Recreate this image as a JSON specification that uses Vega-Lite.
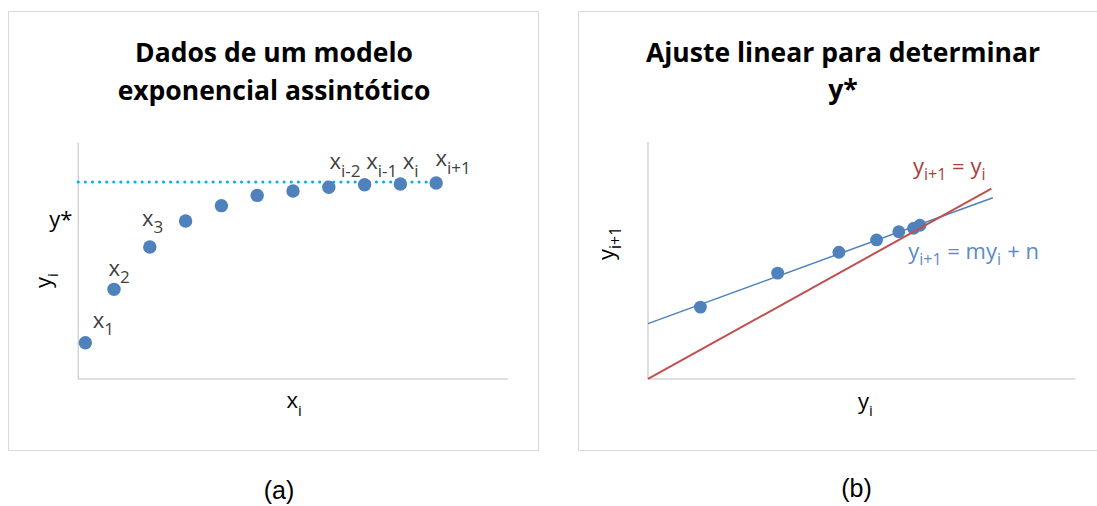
{
  "$schema": "https://vega.github.io/schema/vega-lite/v6.json",
  "padding": {"left": 7, "top": 10, "right": 0, "bottom": 0},
  "background": "white",
  "spacing": 38,
  "config": {"view": {"stroke": "#D9D9D9", "strokeWidth": 1}, "font": "Open Sans"},
  "datasets": {
    "seriesA": [
      {"x": 0.2, "y": 1.84}, {"x": 1, "y": 4.55}, {"x": 2, "y": 6.70}, {"x": 3, "y": 8.02},
      {"x": 4, "y": 8.80}, {"x": 5, "y": 9.32}, {"x": 6, "y": 9.54}, {"x": 7, "y": 9.73},
      {"x": 8, "y": 9.86}, {"x": 9, "y": 9.90}, {"x": 10, "y": 9.95}
    ],
    "labelsA": [
      {"x": 0.729, "y": 2.60, "base": "x", "sub": "1"},
      {"x": 1.168, "y": 5.23, "base": "x", "sub": "2"},
      {"x": 2.103, "y": 7.77, "base": "x", "sub": "3"},
      {"x": 7.341, "y": 10.64, "base": "x", "sub": "i-2"},
      {"x": 8.366, "y": 10.64, "base": "x", "sub": "i-1"},
      {"x": 9.389, "y": 10.64, "base": "x", "sub": "i"},
      {"x": 10.30, "y": 10.81, "base": "x", "sub": "i+1"}
    ],
    "pairsB": [
      {"yi": 1.84, "yi1": 4.55}, {"yi": 4.55, "yi1": 6.70}, {"yi": 6.70, "yi1": 8.02},
      {"yi": 8.02, "yi1": 8.80}, {"yi": 8.80, "yi1": 9.32}, {"yi": 9.32, "yi1": 9.54},
      {"yi": 9.54, "yi1": 9.73}
    ],
    "eqB": [
      {"x": 9.684, "y": 12.96, "base": "y", "sub": "i+1", "eq": "identity"},
      {"x": 11.70, "y": 12.96, "base": "= y", "sub": "i", "eq": "identity"},
      {"x": 9.516, "y": 7.576, "base": "y", "sub": "i+1", "eq": "fit"},
      {"x": 12.246, "y": 7.576, "base": "= my", "sub": "i", "eq": "fit"},
      {"x": 13.72, "y": 7.576, "base": "+ n", "sub": "", "eq": "fit"}
    ]
  },
  "hconcat": [
    {
      "width": 530,
      "height": 439,
      "layer": [
        {
          "data": {"values": [{}]},
          "mark": {"type": "rule", "color": "#BFBFBF", "strokeWidth": 1},
          "encoding": {
            "x": {"datum": 0, "type": "quantitative", "scale": {"domain": [-1.961, 12.844], "nice": false, "zero": false}, "axis": null},
            "y": {"datum": 0, "type": "quantitative", "scale": {"domain": [-3.604, 18.68], "nice": false, "zero": false}, "axis": null},
            "y2": {"datum": 12}
          }
        },
        {
          "data": {"values": [{}]},
          "mark": {"type": "rule", "color": "#BFBFBF", "strokeWidth": 1},
          "encoding": {
            "x": {"datum": 0, "type": "quantitative", "scale": {"domain": [-1.961, 12.844], "nice": false, "zero": false}, "axis": null},
            "x2": {"datum": 12},
            "y": {"datum": 0, "type": "quantitative", "scale": {"domain": [-3.604, 18.68], "nice": false, "zero": false}, "axis": null}
          }
        },
        {
          "data": {"values": [{}]},
          "mark": {"type": "rule", "color": "#00B0F0", "strokeWidth": 3, "strokeDash": [0.1, 7], "strokeCap": "round"},
          "encoding": {
            "x": {"datum": 0, "type": "quantitative", "scale": {"domain": [-1.961, 12.844], "nice": false, "zero": false}, "axis": null},
            "x2": {"datum": 10},
            "y": {"datum": 10, "type": "quantitative", "scale": {"domain": [-3.604, 18.68], "nice": false, "zero": false}, "axis": null}
          }
        },
        {
          "data": {"name": "seriesA"},
          "mark": {"type": "circle", "size": 180, "color": "#4F81BD", "opacity": 1},
          "encoding": {
            "x": {"field": "x", "type": "quantitative", "scale": {"domain": [-1.961, 12.844], "nice": false, "zero": false}, "axis": null},
            "y": {"field": "y", "type": "quantitative", "scale": {"domain": [-3.604, 18.68], "nice": false, "zero": false}, "axis": null}
          }
        },
        {
          "data": {"name": "labelsA"},
          "mark": {"type": "text", "align": "right", "baseline": "alphabetic", "fontSize": 22, "color": "#404040"},
          "encoding": {
            "x": {"field": "x", "type": "quantitative", "scale": {"domain": [-1.961, 12.844], "nice": false, "zero": false}, "axis": null},
            "y": {"field": "y", "type": "quantitative", "scale": {"domain": [-3.604, 18.68], "nice": false, "zero": false}, "axis": null},
            "text": {"field": "base"}
          }
        },
        {
          "data": {"name": "labelsA"},
          "mark": {"type": "text", "align": "left", "baseline": "alphabetic", "fontSize": 17, "dy": 7.5, "color": "#404040"},
          "encoding": {
            "x": {"field": "x", "type": "quantitative", "scale": {"domain": [-1.961, 12.844], "nice": false, "zero": false}, "axis": null},
            "y": {"field": "y", "type": "quantitative", "scale": {"domain": [-3.604, 18.68], "nice": false, "zero": false}, "axis": null},
            "text": {"field": "sub"}
          }
        },
        {
          "data": {"values": [{"x": 6.14, "y": -1.457, "base": "x", "sub": "i"}]},
          "layer": [
            {"mark": {"type": "text", "align": "right", "baseline": "alphabetic", "fontSize": 22, "color": "black"},
             "encoding": {
               "x": {"field": "x", "type": "quantitative", "scale": {"domain": [-1.961, 12.844], "nice": false, "zero": false}, "axis": null},
               "y": {"field": "y", "type": "quantitative", "scale": {"domain": [-3.604, 18.68], "nice": false, "zero": false}, "axis": null},
               "text": {"field": "base"}}},
            {"mark": {"type": "text", "align": "left", "baseline": "alphabetic", "fontSize": 15, "dy": 8, "color": "black"},
             "encoding": {
               "x": {"field": "x", "type": "quantitative", "scale": {"domain": [-1.961, 12.844], "nice": false, "zero": false}, "axis": null},
               "y": {"field": "y", "type": "quantitative", "scale": {"domain": [-3.604, 18.68], "nice": false, "zero": false}, "axis": null},
               "text": {"field": "sub"}}}
          ]
        },
        {
          "data": {"values": [{"x": -0.746, "y": 5.18, "base": "y", "sub": "i"}]},
          "layer": [
            {"mark": {"type": "text", "align": "right", "baseline": "alphabetic", "fontSize": 22, "angle": 270, "color": "black"},
             "encoding": {
               "x": {"field": "x", "type": "quantitative", "scale": {"domain": [-1.961, 12.844], "nice": false, "zero": false}, "axis": null},
               "y": {"field": "y", "type": "quantitative", "scale": {"domain": [-3.604, 18.68], "nice": false, "zero": false}, "axis": null},
               "text": {"field": "base"}}},
            {"mark": {"type": "text", "align": "left", "baseline": "alphabetic", "fontSize": 15, "dy": 7, "angle": 270, "color": "black"},
             "encoding": {
               "x": {"field": "x", "type": "quantitative", "scale": {"domain": [-1.961, 12.844], "nice": false, "zero": false}, "axis": null},
               "y": {"field": "y", "type": "quantitative", "scale": {"domain": [-3.604, 18.68], "nice": false, "zero": false}, "axis": null},
               "text": {"field": "sub"}}}
          ]
        },
        {
          "data": {"values": [{"x": -0.807, "y": 7.72, "t": "y*"}]},
          "mark": {"type": "text", "align": "left", "baseline": "alphabetic", "fontSize": 22, "color": "black"},
          "encoding": {
            "x": {"field": "x", "type": "quantitative", "scale": {"domain": [-1.961, 12.844], "nice": false, "zero": false}, "axis": null},
            "y": {"field": "y", "type": "quantitative", "scale": {"domain": [-3.604, 18.68], "nice": false, "zero": false}, "axis": null},
            "text": {"field": "t"}
          }
        },
        {
          "data": {"values": [{"x": 5.469, "y": 16.09}]},
          "mark": {"type": "text", "align": "center", "baseline": "alphabetic", "fontSize": 26.5, "fontWeight": "bold", "lineHeight": 38, "color": "black", "text": ["Dados de um modelo", "exponencial assintótico"]},
          "encoding": {
            "x": {"field": "x", "type": "quantitative", "scale": {"domain": [-1.961, 12.844], "nice": false, "zero": false}, "axis": null},
            "y": {"field": "y", "type": "quantitative", "scale": {"domain": [-3.604, 18.68], "nice": false, "zero": false}, "axis": null}
          }
        },
        {
          "data": {"values": [{"x": 5.609, "y": -6.09, "t": "(a)"}]},
          "mark": {"type": "text", "align": "center", "baseline": "alphabetic", "font": "Liberation Sans", "fontSize": 25, "color": "black"},
          "encoding": {
            "x": {"field": "x", "type": "quantitative", "scale": {"domain": [-1.961, 12.844], "nice": false, "zero": false}, "axis": null},
            "y": {"field": "y", "type": "quantitative", "scale": {"domain": [-3.604, 18.68], "nice": false, "zero": false}, "axis": null},
            "text": {"field": "t"}
          }
        }
      ]
    },
    {
      "width": 522,
      "height": 439,
      "layer": [
        {
          "data": {"values": [{}]},
          "mark": {"type": "rule", "color": "#BFBFBF", "strokeWidth": 1},
          "encoding": {
            "x": {"datum": 0, "type": "quantitative", "scale": {"domain": [-2.456, 15.86], "nice": false, "zero": false}, "axis": null},
            "y": {"datum": 0, "type": "quantitative", "scale": {"domain": [-4.494, 23.29], "nice": false, "zero": false}, "axis": null},
            "y2": {"datum": 15}
          }
        },
        {
          "data": {"values": [{}]},
          "mark": {"type": "rule", "color": "#BFBFBF", "strokeWidth": 1},
          "encoding": {
            "x": {"datum": 0, "type": "quantitative", "scale": {"domain": [-2.456, 15.86], "nice": false, "zero": false}, "axis": null},
            "x2": {"datum": 15},
            "y": {"datum": 0, "type": "quantitative", "scale": {"domain": [-4.494, 23.29], "nice": false, "zero": false}, "axis": null}
          }
        },
        {
          "data": {"name": "pairsB"},
          "transform": [{"regression": "yi1", "on": "yi", "extent": [0, 12.1]}],
          "mark": {"type": "line", "color": "#4F81BD", "strokeWidth": 1.5},
          "encoding": {
            "x": {"field": "yi", "type": "quantitative", "scale": {"domain": [-2.456, 15.86], "nice": false, "zero": false}, "axis": null},
            "y": {"field": "yi1", "type": "quantitative", "scale": {"domain": [-4.494, 23.29], "nice": false, "zero": false}, "axis": null}
          }
        },
        {
          "data": {"name": "pairsB"},
          "mark": {"type": "circle", "size": 165, "color": "#4F81BD", "opacity": 1},
          "encoding": {
            "x": {"field": "yi", "type": "quantitative", "scale": {"domain": [-2.456, 15.86], "nice": false, "zero": false}, "axis": null},
            "y": {"field": "yi1", "type": "quantitative", "scale": {"domain": [-4.494, 23.29], "nice": false, "zero": false}, "axis": null}
          }
        },
        {
          "data": {"values": [{}]},
          "mark": {"type": "rule", "color": "#C0504D", "strokeWidth": 2},
          "encoding": {
            "x": {"datum": 0, "type": "quantitative", "scale": {"domain": [-2.456, 15.86], "nice": false, "zero": false}, "axis": null},
            "y": {"datum": 0, "type": "quantitative", "scale": {"domain": [-4.494, 23.29], "nice": false, "zero": false}, "axis": null},
            "x2": {"datum": 12.05},
            "y2": {"datum": 12.05}
          }
        },
        {
          "data": {"name": "eqB"},
          "mark": {"type": "text", "align": "right", "baseline": "alphabetic", "fontSize": 22},
          "encoding": {
            "x": {"field": "x", "type": "quantitative", "scale": {"domain": [-2.456, 15.86], "nice": false, "zero": false}, "axis": null},
            "y": {"field": "y", "type": "quantitative", "scale": {"domain": [-4.494, 23.29], "nice": false, "zero": false}, "axis": null},
            "text": {"field": "base"},
            "color": {"field": "eq", "type": "nominal", "scale": {"domain": ["identity", "fit"], "range": ["#A8413D", "#5B8BC9"]}, "legend": null}
          }
        },
        {
          "data": {"name": "eqB"},
          "mark": {"type": "text", "align": "left", "baseline": "alphabetic", "fontSize": 16, "dy": 6},
          "encoding": {
            "x": {"field": "x", "type": "quantitative", "scale": {"domain": [-2.456, 15.86], "nice": false, "zero": false}, "axis": null},
            "y": {"field": "y", "type": "quantitative", "scale": {"domain": [-4.494, 23.29], "nice": false, "zero": false}, "axis": null},
            "text": {"field": "sub"},
            "color": {"field": "eq", "type": "nominal", "scale": {"domain": ["identity", "fit"], "range": ["#A8413D", "#5B8BC9"]}, "legend": null}
          }
        },
        {
          "data": {"values": [{"x": 7.754, "y": -1.90, "base": "y", "sub": "i"}]},
          "layer": [
            {"mark": {"type": "text", "align": "right", "baseline": "alphabetic", "fontSize": 22, "color": "black"},
             "encoding": {
               "x": {"field": "x", "type": "quantitative", "scale": {"domain": [-2.456, 15.86], "nice": false, "zero": false}, "axis": null},
               "y": {"field": "y", "type": "quantitative", "scale": {"domain": [-4.494, 23.29], "nice": false, "zero": false}, "axis": null},
               "text": {"field": "base"}}},
            {"mark": {"type": "text", "align": "left", "baseline": "alphabetic", "fontSize": 15, "dy": 7, "color": "black"},
             "encoding": {
               "x": {"field": "x", "type": "quantitative", "scale": {"domain": [-2.456, 15.86], "nice": false, "zero": false}, "axis": null},
               "y": {"field": "y", "type": "quantitative", "scale": {"domain": [-4.494, 23.29], "nice": false, "zero": false}, "axis": null},
               "text": {"field": "sub"}}}
          ]
        },
        {
          "data": {"values": [{"x": -1.2, "y": 8.228, "base": "y", "sub": "i+1"}]},
          "layer": [
            {"mark": {"type": "text", "align": "right", "baseline": "alphabetic", "fontSize": 22, "angle": 270, "color": "black"},
             "encoding": {
               "x": {"field": "x", "type": "quantitative", "scale": {"domain": [-2.456, 15.86], "nice": false, "zero": false}, "axis": null},
               "y": {"field": "y", "type": "quantitative", "scale": {"domain": [-4.494, 23.29], "nice": false, "zero": false}, "axis": null},
               "text": {"field": "base"}}},
            {"mark": {"type": "text", "align": "left", "baseline": "alphabetic", "fontSize": 16, "dy": 7, "angle": 270, "color": "black"},
             "encoding": {
               "x": {"field": "x", "type": "quantitative", "scale": {"domain": [-2.456, 15.86], "nice": false, "zero": false}, "axis": null},
               "y": {"field": "y", "type": "quantitative", "scale": {"domain": [-4.494, 23.29], "nice": false, "zero": false}, "axis": null},
               "text": {"field": "sub"}}}
          ]
        },
        {
          "data": {"values": [{"x": 6.842, "y": 20.06}]},
          "mark": {"type": "text", "align": "center", "baseline": "alphabetic", "fontSize": 26.5, "fontWeight": "bold", "lineHeight": 37, "color": "black", "text": ["Ajuste linear para determinar", "y*"]},
          "encoding": {
            "x": {"field": "x", "type": "quantitative", "scale": {"domain": [-2.456, 15.86], "nice": false, "zero": false}, "axis": null},
            "y": {"field": "y", "type": "quantitative", "scale": {"domain": [-4.494, 23.29], "nice": false, "zero": false}, "axis": null}
          }
        },
        {
          "data": {"values": [{"x": 7.316, "y": -7.47, "t": "(b)"}]},
          "mark": {"type": "text", "align": "center", "baseline": "alphabetic", "font": "Liberation Sans", "fontSize": 25, "color": "black"},
          "encoding": {
            "x": {"field": "x", "type": "quantitative", "scale": {"domain": [-2.456, 15.86], "nice": false, "zero": false}, "axis": null},
            "y": {"field": "y", "type": "quantitative", "scale": {"domain": [-4.494, 23.29], "nice": false, "zero": false}, "axis": null},
            "text": {"field": "t"}
          }
        }
      ]
    }
  ]
}
